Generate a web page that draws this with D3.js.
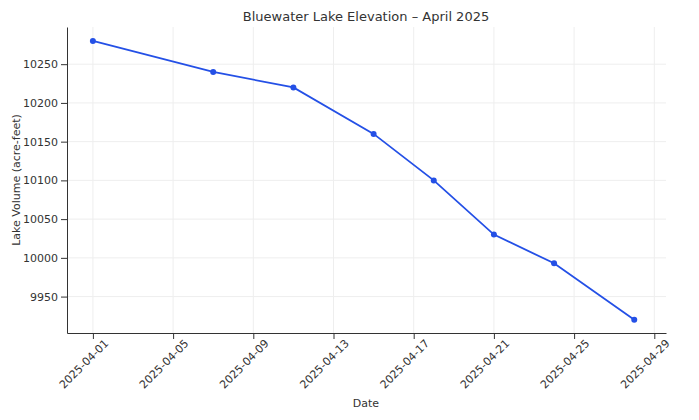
<!DOCTYPE html>
<html><head><meta charset="utf-8">
<script src="https://cdn.jsdelivr.net/npm/d3@7"></script>
<style>body{margin:0;background:#fff}text{font-family:"DejaVu Sans",sans-serif;fill:#333}</style>
</head><body><svg></svg>
<script>
// data
const dates = ["2025-04-01","2025-04-07","2025-04-11","2025-04-15","2025-04-18","2025-04-21","2025-04-24","2025-04-28"];
const volumes = [10280, 10240, 10220, 10160, 10100, 10030, 9993, 9920];
const xTicks = ["2025-04-01","2025-04-05","2025-04-09","2025-04-13","2025-04-17","2025-04-21","2025-04-25","2025-04-29"];
const yTicks = [9950, 10000, 10050, 10100, 10150, 10200, 10250];

const width = 699, height = 420;
const margin = {left: 67, right: 33, top: 27, bottom: 87};
const parse = d3.utcParse("%Y-%m-%d");

const svg = d3.select("svg").attr("width", width).attr("height", height);

const x = d3.scaleUtc()
    .domain([new Date(Date.UTC(2025, 2, 30, 17)), new Date(Date.UTC(2025, 3, 29, 14))])
    .range([margin.left, width - margin.right]);
const y = d3.scaleLinear()
    .domain([9903, 10298])
    .range([height - margin.bottom, margin.top]);

// grid
svg.append("g").selectAll("line").data(xTicks).enter().append("line")
    .attr("x1", d => x(parse(d))).attr("x2", d => x(parse(d)))
    .attr("y1", margin.top).attr("y2", height - margin.bottom)
    .attr("stroke", "#eee");
svg.append("g").selectAll("line").data(yTicks).enter().append("line")
    .attr("x1", margin.left).attr("x2", width - margin.right)
    .attr("y1", d => y(d)).attr("y2", d => y(d))
    .attr("stroke", "#eee");

// axes
const xAxis = svg.append("g")
    .attr("transform", `translate(0,${height - margin.bottom})`)
    .call(d3.axisBottom(x).tickValues(xTicks.map(parse)).tickFormat(d3.utcFormat("%Y-%m-%d")).tickSizeOuter(0));
xAxis.selectAll("text")
    .attr("font-size", 11)
    .attr("text-anchor", "end")
    .attr("dx", "0.3em").attr("dy", "0.9em")
    .attr("transform", "rotate(-45)");

const yAxis = svg.append("g")
    .attr("transform", `translate(${margin.left},0)`)
    .call(d3.axisLeft(y).tickValues(yTicks).tickFormat(d3.format("d")).tickSizeOuter(0));
yAxis.selectAll("text").attr("font-size", 11);
svg.selectAll(".domain, .tick line").attr("stroke", "#333");

// line
const pts = dates.map((d, i) => ({date: parse(d), v: volumes[i]}));
svg.append("path").datum(pts)
    .attr("fill", "none").attr("stroke", "#2450e6").attr("stroke-width", 1.8)
    .attr("d", d3.line().x(d => x(d.date)).y(d => y(d.v)));
svg.append("g").selectAll("circle").data(pts).enter().append("circle")
    .attr("cx", d => x(d.date)).attr("cy", d => y(d.v)).attr("r", 3)
    .attr("fill", "#2450e6");

// labels
svg.append("text").attr("x", 366).attr("y", 21).attr("text-anchor", "middle")
    .attr("font-size", 13).text("Bluewater Lake Elevation – April 2025");
svg.append("text").attr("x", 366).attr("y", 407).attr("text-anchor", "middle")
    .attr("font-size", 11).text("Date");
svg.append("text").attr("transform", `translate(20,${(margin.top + height - margin.bottom) / 2}) rotate(-90)`)
    .attr("text-anchor", "middle").attr("font-size", 11).text("Lake Volume (acre-feet)");
</script></body></html>
